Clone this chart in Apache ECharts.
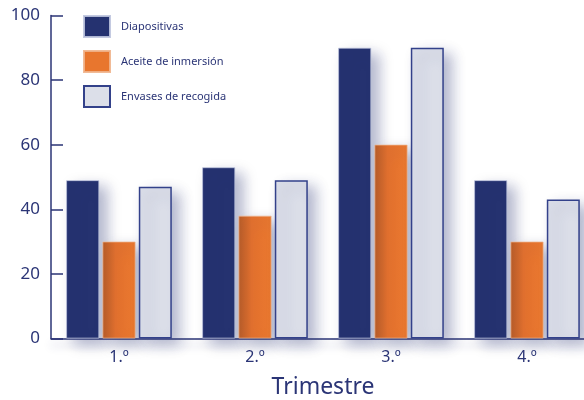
<!DOCTYPE html>
<html>
<head>
<meta charset="utf-8">
<script src="https://cdn.jsdelivr.net/npm/echarts@6/dist/echarts.min.js"></script>
<style>
  html, body { margin: 0; padding: 0; background: #fff; }
  #chart { width: 584px; height: 400px; }
</style>
</head>
<body>
<div id="chart"></div>
<script>
    var categories = ['1.º', '2.º', '3.º', '4.º'];
    var diapositivas = [49, 53, 90, 49];
    var aceite = [30, 38, 60, 30];
    var envases = [47, 49, 90, 43];
    var seriesNames = ['Diapositivas', 'Aceite de inmersión', 'Envases de recogida'];

    var navy = '#2b3576';
    var font = 'Noto Sans';
    var shadow = {
        shadowColor: 'rgba(37, 50, 112, 0.35)',
        shadowBlur: 14,
        shadowOffsetX: 8,
        shadowOffsetY: 6
    };

    var chart = echarts.init(document.getElementById('chart'));

    var options = {
        animation: false,
        grid: {
            left: 51,
            top: 15.5,
            width: 544,
            height: 323,
            containLabel: false,
            outerBoundsMode: 'none'
        },
        legend: {
            orient: 'vertical',
            left: 83,
            top: 15,
            padding: 0,
            itemWidth: 26,
            itemHeight: 21,
            itemGap: 12,
            icon: 'rect',
            textStyle: {
                color: navy,
                fontFamily: font,
                fontSize: 11,
                padding: [0, 0, 0, 6]
            },
            data: [
                { name: seriesNames[0], itemStyle: { shadowBlur: 0, shadowOffsetX: 0, shadowOffsetY: 0 } },
                { name: seriesNames[1], itemStyle: { color: '#e8762e', shadowBlur: 0, shadowOffsetX: 0, shadowOffsetY: 0 } },
                { name: seriesNames[2], itemStyle: { shadowBlur: 0, shadowOffsetX: 0, shadowOffsetY: 0 } }
            ]
        },
        xAxis: {
            type: 'category',
            data: categories,
            name: 'Trimestre',
            nameLocation: 'middle',
            nameGap: 37,
            nameTextStyle: {
                color: navy,
                fontFamily: font,
                fontSize: 23
            },
            axisLine: {
                lineStyle: {
                    color: navy,
                    width: 1.5,
                    shadowColor: 'rgba(37, 50, 112, 0.3)',
                    shadowBlur: 8,
                    shadowOffsetY: 6
                }
            },
            axisTick: {
                inside: true,
                length: 7,
                lineStyle: { color: navy, width: 1.5 }
            },
            axisLabel: {
                color: navy,
                fontFamily: font,
                fontSize: 16,
                margin: 11
            }
        },
        yAxis: {
            type: 'value',
            min: 0,
            max: 100,
            interval: 20,
            splitLine: { show: false },
            axisLine: {
                show: true,
                lineStyle: { color: navy, width: 1.5 }
            },
            axisTick: {
                show: true,
                inside: true,
                length: 12,
                lineStyle: { color: navy, width: 1.5 }
            },
            axisLabel: {
                color: navy,
                fontFamily: font,
                fontSize: 17,
                margin: 11
            }
        },
        series: [
            {
                name: seriesNames[0],
                type: 'bar',
                barWidth: 33,
                barGap: '10%',
                data: diapositivas,
                itemStyle: Object.assign({
                    color: '#253270',
                    borderColor: 'rgba(190, 196, 222, 0.9)',
                    borderWidth: 0.8
                }, shadow)
            },
            {
                name: seriesNames[1],
                type: 'bar',
                barWidth: 33,
                barGap: '10%',
                data: aceite,
                itemStyle: Object.assign({
                    color: new echarts.graphic.LinearGradient(0, 0, 1, 0, [
                        { offset: 0, color: '#b65c29' },
                        { offset: 0.4, color: '#e3712e' },
                        { offset: 1, color: '#ea782f' }
                    ]),
                    borderColor: 'rgba(240, 180, 140, 0.9)',
                    borderWidth: 0.8
                }, shadow)
            },
            {
                name: seriesNames[2],
                type: 'bar',
                barWidth: 33,
                barGap: '10%',
                data: envases,
                itemStyle: Object.assign({
                    color: '#dcdfe9',
                    borderColor: '#33418a',
                    borderWidth: 1.5
                }, shadow)
            }
        ]
    };
    chart.setOption(options, true);
</script>
</body>
</html>
